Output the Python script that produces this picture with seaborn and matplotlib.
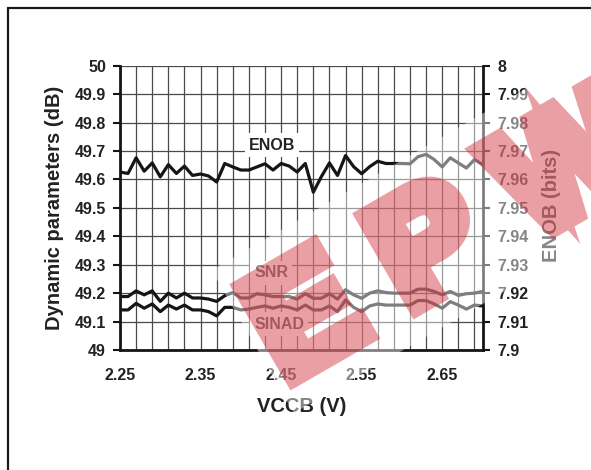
import numpy as np
import pandas as pd
import matplotlib
matplotlib.use("Agg")
import matplotlib.pyplot as plt
import seaborn as sns
from matplotlib import patheffects
from matplotlib.patches import Rectangle
from matplotlib.transforms import IdentityTransform


# Data
vccb = np.round(np.arange(2.25, 2.705, 0.01), 2)

snr = [49.188, 49.188, 49.208, 49.194, 49.208, 49.171, 49.200, 49.183, 49.200, 49.183,
       49.183, 49.179, 49.171, 49.191, 49.202, 49.183, 49.183, 49.198, 49.194, 49.188,
       49.188, 49.188, 49.179, 49.198, 49.182, 49.182, 49.198, 49.179, 49.212, 49.194,
       49.182, 49.200, 49.208, 49.202, 49.200, 49.200, 49.200, 49.214, 49.214, 49.206,
       49.194, 49.206, 49.192, 49.198, 49.200, 49.206]

sinad = [49.141, 49.141, 49.164, 49.147, 49.162, 49.135, 49.158, 49.144, 49.158, 49.141,
         49.141, 49.135, 49.120, 49.150, 49.150, 49.141, 49.144, 49.150, 49.155, 49.147,
         49.155, 49.150, 49.141, 49.158, 49.141, 49.141, 49.155, 49.135, 49.176, 49.150,
         49.135, 49.155, 49.162, 49.158, 49.158, 49.158, 49.158, 49.174, 49.174, 49.162,
         49.147, 49.170, 49.158, 49.144, 49.158, 49.155]

enob = [7.9626, 7.9621, 7.9676, 7.9629, 7.9658, 7.9609, 7.9652, 7.9621, 7.9647, 7.9614,
        7.9619, 7.9612, 7.9591, 7.9656, 7.9644, 7.9633, 7.9633, 7.9644, 7.9655, 7.9633,
        7.9656, 7.9647, 7.9626, 7.9656, 7.9555, 7.9610, 7.9658, 7.9614, 7.9684, 7.9645,
        7.9620, 7.9645, 7.9664, 7.9656, 7.9656, 7.9656, 7.9655, 7.9680, 7.9688, 7.9670,
        7.9644, 7.9676, 7.9658, 7.9640, 7.9670, 7.9652]

x_ticks = [2.25, 2.35, 2.45, 2.55, 2.65]
x_ticklabels = ["2.25", "2.35", "2.45", "2.55", "2.65"]
db_ticks = [49.0, 49.1, 49.2, 49.3, 49.4, 49.5, 49.6, 49.7, 49.8, 49.9, 50.0]
db_ticklabels = ["49", "49.1", "49.2", "49.3", "49.4", "49.5", "49.6", "49.7", "49.8", "49.9", "50"]
bits_ticks = [7.90, 7.91, 7.92, 7.93, 7.94, 7.95, 7.96, 7.97, 7.98, 7.99, 8.00]
bits_ticklabels = ["7.9", "7.91", "7.92", "7.93", "7.94", "7.95", "7.96", "7.97", "7.98", "7.99", "8"]

df = pd.DataFrame({"VCCB": vccb, "SNR": snr, "SINAD": sinad})
df_long = df.melt(id_vars="VCCB", var_name="Param", value_name="dB")

# Plot
sns.set_style("white")
plt.rcParams["font.family"] = ["Liberation Sans", "DejaVu Sans"]
plt.rcParams["font.weight"] = "bold"

fig = plt.figure(figsize=(5.91, 4.70), dpi=100)
ax = fig.add_axes([120 / 591, 1 - 350 / 470, 362.5 / 591, 284.3 / 470])
ax2 = ax.twinx()

sns.lineplot(data=df_long, x="VCCB", y="dB", hue="Param",
             palette={"SNR": "#151515", "SINAD": "#151515"},
             linewidth=2.3, legend=False, ax=ax)
sns.lineplot(x=vccb, y=enob, color="#151515", linewidth=2.3, ax=ax2)

ax.set_xlim(2.25, 2.70)
ax.set_ylim(49, 50)
ax2.set_ylim(7.9, 8.0)

ax.set_xticks(x_ticks)
ax.set_xticklabels(x_ticklabels)
ax.set_xticks(np.round(np.arange(2.27, 2.70, 0.02), 2), minor=True)
ax.set_yticks(db_ticks)
ax.set_yticklabels(db_ticklabels)
ax2.set_yticks(bits_ticks)
ax2.set_yticklabels(bits_ticklabels)

ax.set_axisbelow(True)
ax.grid(axis="x", which="both", color="#4a4a4a", linewidth=0.9)
ax.grid(axis="y", which="major", color="#4a4a4a", linewidth=0.9)

for s in ["top", "right"]:
    ax.spines[s].set_visible(False)
for s in ["top", "left", "bottom"]:
    ax2.spines[s].set_visible(False)
for s in ["left", "bottom"]:
    ax.spines[s].set_linewidth(2)
    ax.spines[s].set_color("#151515")
ax2.spines["right"].set_linewidth(2)
ax2.spines["right"].set_color("#151515")

ax.tick_params(axis="x", which="major", direction="out", length=5, width=1.5,
               pad=8, labelsize=11.5, color="#151515", labelcolor="#222")
ax.tick_params(axis="x", which="minor", length=0)
ax.tick_params(axis="y", direction="out", length=5, width=1.5, pad=5,
               labelsize=11.5, color="#151515", labelcolor="#222")
ax2.tick_params(axis="y", direction="out", length=5, width=1.5, pad=6,
                labelsize=11.5, color="#151515", labelcolor="#222")

ax.set_xlabel("VCCB (V)", fontsize=14.5, fontweight="bold", color="#222")
ax.set_ylabel("Dynamic parameters (dB)", fontsize=14.5, fontweight="bold", color="#222")
ax2.set_ylabel("ENOB (bits)", fontsize=14.5, fontweight="bold", color="#222")
ax.xaxis.set_label_coords(0.5, -0.165)
ax.yaxis.set_label_coords(-0.155, 0.5)
ax2.yaxis.set_label_coords(1.165, 0.51)

box = dict(facecolor="white", edgecolor="none", pad=3)
ax.text(2.4387, 49.721, "ENOB", ha="center", va="center", fontsize=11.5,
        fontweight="bold", color="#222", bbox=box, zorder=5)
ax.text(2.4375, 49.271, "SNR", ha="center", va="center", fontsize=11.5,
        fontweight="bold", color="#222", bbox=box, zorder=5)
ax.text(2.4474, 49.091, "SINAD", ha="center", va="center", fontsize=11.5,
        fontweight="bold", color="#222", bbox=box, zorder=5)


# watermark stamp: translucent white plate with heavy translucent red letters
def fade(img, dpi):
    img = img.copy()
    img[..., 3] *= 0.42
    return img, 0, 0


ang = np.deg2rad(30)
u = np.array([np.cos(ang), np.sin(ang)])
n = np.array([-np.sin(ang), np.cos(ang)])
base = np.array([302.0, 87.0])
plate = base - 22 * n - 22 * u
fig.add_artist(Rectangle(tuple(plate), 480, 165, angle=30, transform=IdentityTransform(),
                         facecolor=(1, 1, 1, 0.45), edgecolor="none", zorder=10))
red = (0.80, 0.10, 0.15)
origin = base + 9 * n - 14 * u
for k, letter in enumerate("EPW"):
    pos = origin + k * 142 * u
    t = fig.text(pos[0], pos[1], letter, transform=IdentityTransform(), rotation=30,
                 rotation_mode="anchor", ha="left", va="baseline", fontsize=108,
                 fontweight="bold", color=red, zorder=11)
    t.set_path_effects([patheffects.Stroke(linewidth=14, foreground=red,
                                           joinstyle="miter"),
                        patheffects.Normal()])
    t.set_agg_filter(fade)

# outer frame
fig.add_artist(Rectangle((7.5, -20), 700, 482.5, transform=IdentityTransform(),
                         fill=False, edgecolor="#1a1a1a", linewidth=1.6, zorder=12))

fig.savefig("out.png", dpi=100)
